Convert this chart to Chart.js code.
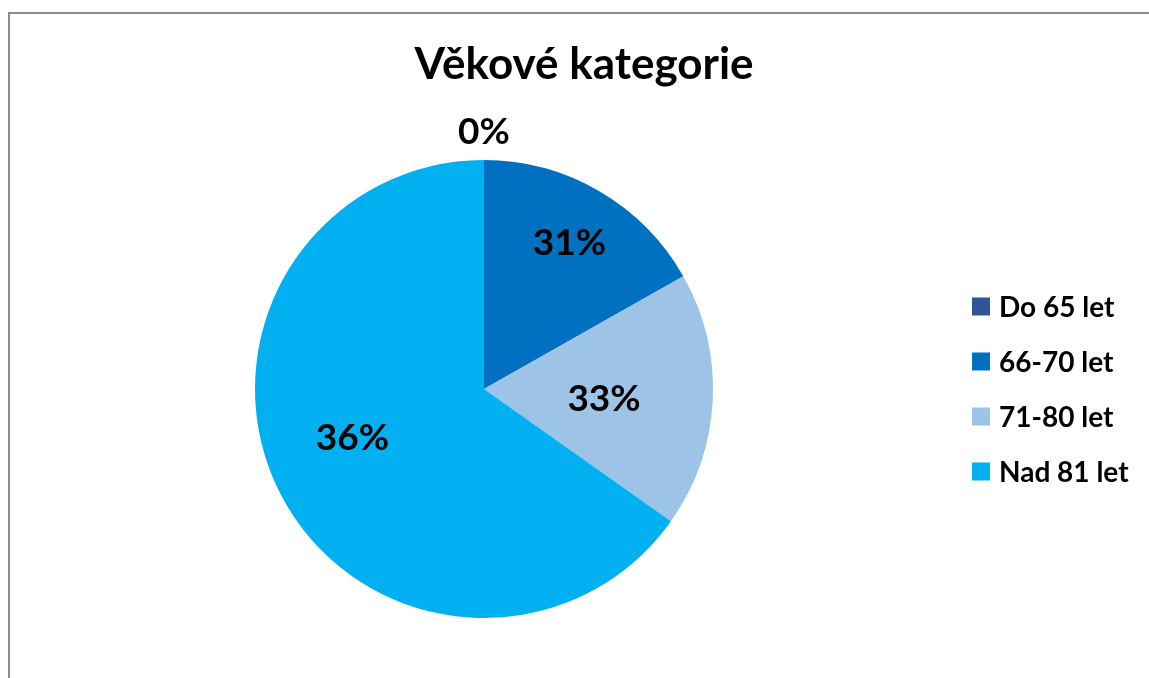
<!DOCTYPE html>
<html>
<head>
<meta charset="utf-8">
<script src="https://cdn.jsdelivr.net/npm/chart.js@4/dist/chart.umd.min.js"></script>
<style>
  html, body { margin: 0; padding: 0; background: #fff; }
  #wrap { position: relative; width: 1149px; height: 678px; overflow: hidden; }
  #frame {
    position: absolute; left: 8px; top: 12px; right: -10px; bottom: -10px;
    border-left: 2px solid #8c8c8c; border-top: 2px solid #8c8c8c;
  }
  #chart { position: absolute; left: 0; top: 0; }
</style>
</head>
<body>
<div id="wrap">
  <div id="frame"></div>
  <canvas id="chart" width="1149" height="678"></canvas>
</div>
<script>
'use strict';

const TITLE = 'Věkové kategorie';
const CATEGORIES = ['Do 65 let', '66-70 let', '71-80 let', 'Nad 81 let'];
// slice sizes as drawn in the picture
const SLICE_VALUES = [0, 16.8, 18, 65.2];
// percentage texts printed on the slices
const PERCENT_LABELS = ['0%', '31%', '33%', '36%'];
const COLORS = ['#2F5597', '#0070C0', '#9DC3E6', '#00B0F0'];

const FONT = "Lato, 'Open Sans', 'Liberation Sans', sans-serif";

// radial fraction + angle nudge (deg) for each label
const LABEL_POS = [
  { r: 1.12, a: 0 },
  { r: 0.74, a: 0 },
  { r: 0.526, a: 2 },
  { r: 0.613, a: 7 },
];

/* ── labels on slices ── */
const sliceLabels = {
  id: 'sliceLabels',
  afterDatasetsDraw(chart) {
    const ctx = chart.ctx;
    const meta = chart.getDatasetMeta(0);
    ctx.save();
    ctx.font = `bold 37px ${FONT}`;
    ctx.fillStyle = '#000';
    ctx.textAlign = 'center';
    ctx.textBaseline = 'middle';
    meta.data.forEach((arc, i) => {
      const p = arc.getProps(['x', 'y', 'startAngle', 'endAngle', 'outerRadius'], true);
      const pos = LABEL_POS[i];
      const mid = (p.startAngle + p.endAngle) / 2 + pos.a * Math.PI / 180;
      const rr = p.outerRadius * pos.r;
      ctx.fillText(PERCENT_LABELS[i], p.x + Math.cos(mid) * rr, p.y + Math.sin(mid) * rr);
    });
    ctx.restore();
  }
};

/* ── title + legend (title is centred on the whole chart object, legend sits right) ── */
const titleAndLegend = {
  id: 'titleAndLegend',
  afterDraw(chart) {
    const ctx = chart.ctx;
    const area = chart.chartArea;
    ctx.save();
    ctx.fillStyle = '#000';
    ctx.textAlign = 'center';
    ctx.textBaseline = 'alphabetic';
    ctx.font = `bold 44px ${FONT}`;
    ctx.fillText(TITLE, 584, 79);

    const cy = (area.top + area.bottom) / 2;
    const step = 55;
    const box = 18;
    ctx.font = `bold 28px ${FONT}`;
    ctx.textAlign = 'left';
    ctx.textBaseline = 'middle';
    CATEGORIES.forEach((c, i) => {
      const y = cy + (i - (CATEGORIES.length - 1) / 2) * step;
      ctx.fillStyle = COLORS[i];
      ctx.fillRect(972, y - box / 2, box, box);
      ctx.fillStyle = '#000';
      ctx.fillText(c, 999, y + 1);
    });
    ctx.restore();
  }
};

new Chart(document.getElementById('chart'), {
  type: 'pie',
  data: {
    labels: CATEGORIES,
    datasets: [{
      data: SLICE_VALUES,
      backgroundColor: COLORS,
      borderWidth: 0,
    }],
  },
  options: {
    responsive: false,
    animation: false,
    layout: { padding: { left: 6, right: 187, top: 160, bottom: 60 } },
    plugins: {
      title: { display: false },
      legend: { display: false },
      tooltip: { enabled: false },
    },
  },
  plugins: [sliceLabels, titleAndLegend],
});
</script>
</body>
</html>
